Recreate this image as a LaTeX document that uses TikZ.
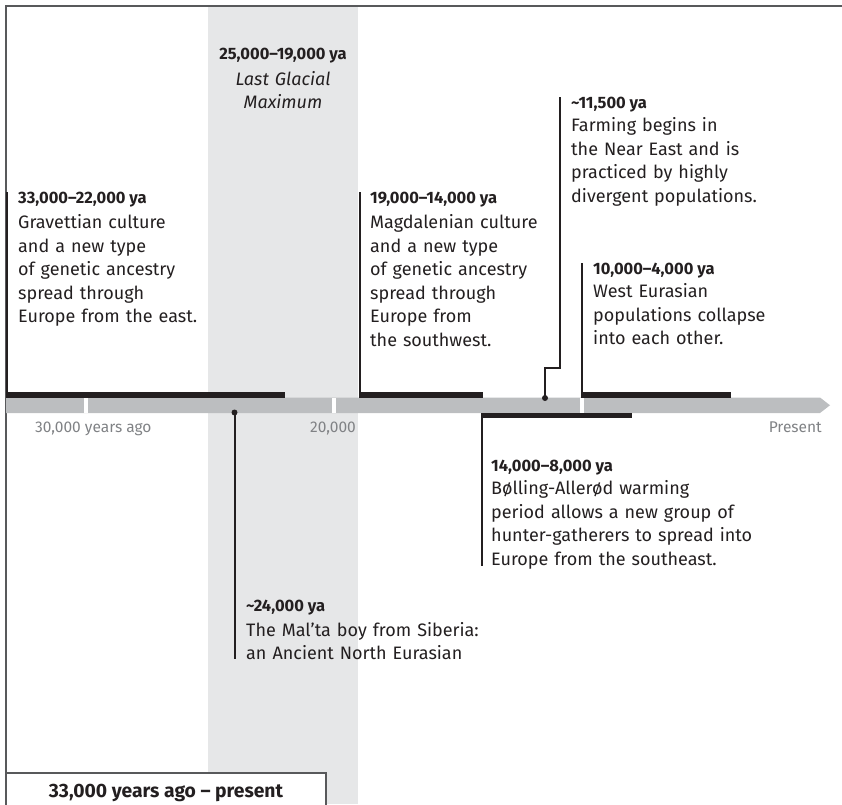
\documentclass[tikz,border=0pt]{standalone}
\usepackage{fontspec}
\setmainfont{Fira Sans}
\definecolor{framegray}{HTML}{58595B}
\definecolor{ink}{HTML}{231F20}
\definecolor{bargray}{HTML}{BCBEC0}
\definecolor{bandgray}{HTML}{E6E7E8}
\definecolor{labelgray}{HTML}{808285}
\tikzset{
  head/.style={font=\fontsize{16.5}{19}\selectfont\bfseries, text=ink, inner sep=0pt, anchor=base west},
  body/.style={font=\fontsize{18}{23.5}\selectfont, text=ink, inner sep=0pt, anchor=base west,
               text width=290pt, align=left},
  axislabel/.style={font=\fontsize{15.5}{18}\selectfont, text=labelgray, inner sep=0pt},
  leader/.style={draw=ink, line width=2pt},
  spanbar/.style={fill=ink},
  frameline/.style={draw=framegray, line width=1.5pt},
}
\begin{document}
\begin{tikzpicture}[x=1pt, y=-1pt]
\useasboundingbox (0,0) rectangle (842,804);

% Last Glacial Maximum band
\fill[bandgray] (208,6) rectangle (358,804);

% outer frame (top and left sides)
\draw[frameline] (6,804) -- (6,6) -- (842,6);

% time axis with arrow point
\fill[bargray] (6,397.5) -- (820,397.5) -- (830,405.25) -- (820,413) -- (6,413) -- cycle;
\fill[white] (84,397.5) rectangle (88,413);
\fill[white] (332,397.5) rectangle (336,413);
\fill[white] (580,397.5) rectangle (584,413);

\node[axislabel, anchor=base west] (l30) at (35,432.3) {30,000 years ago};
\node[axislabel, anchor=base east] (l20) at (356,432.3) {20,000};
\node[axislabel, anchor=base east] (lnow) at (822,432.3) {Present};

% period bars
\fill[spanbar] (6,392) rectangle (285,397.5);
\fill[spanbar] (358.5,392) rectangle (483,397.5);
\fill[spanbar] (581,392) rectangle (731,397.5);
\fill[spanbar] (481,413) rectangle (632,418);

% anchor points of the leader lines
\coordinate (a-top) at (7,192);   \coordinate (a-foot) at (7,392);
\coordinate (b-top) at (359.5,192); \coordinate (b-foot) at (359.5,392);
\coordinate (d-top) at (582,263); \coordinate (d-foot) at (582,392);
\coordinate (e-top) at (481.8,413); \coordinate (e-foot) at (481.8,566);
\coordinate (f-dot) at (234.5,412.5); \coordinate (f-foot) at (234.5,659);
\coordinate (c-dot) at (545,398); \coordinate (c-top) at (560,97);

\draw[leader] (a-top) -- (a-foot);
\draw[leader] (b-top) -- (b-foot);
\draw[leader] (d-top) -- (d-foot);
\draw[leader] (e-top) -- (e-foot);
\draw[leader] (f-dot) -- (f-foot);
\draw[leader] (c-dot) |- (552,368) -| (c-top);
\fill[ink] (f-dot) circle (3pt);
\fill[ink] (c-dot) circle (3pt);

% Last Glacial Maximum label
\node[head, anchor=base] (g-head) at (283,59.3) {25,000–19,000 ya};
\node[body, anchor=base, text width=150pt, align=center] (g-body) at (283,85)
  {\itshape Last Glacial\\Maximum};

% Gravettian
\node[head] (a-head) at (18,203) {33,000–22,000 ya};
\node[body] (a-body) at (18,228.5)
  {Gravettian culture\\and a new type\\of genetic ancestry\\spread through\\Europe from the east.};

% Magdalenian
\node[head] (b-head) at (370,203) {19,000–14,000 ya};
\node[body] (b-body) at (370,228.5)
  {Magdalenian culture\\and a new type\\of genetic ancestry\\spread through\\Europe from\\the southwest.};

% Farming
\node[head] (c-head) at (571,108) {\textasciitilde11,500 ya};
\node[body] (c-body) at (571,131.5)
  {Farming begins in\\the Near East and is\\practiced by highly\\divergent populations.};

% West Eurasian
\node[head] (d-head) at (593,274) {10,000–4,000 ya};
\node[body] (d-body) at (593,297.5)
  {West Eurasian\\populations collapse\\into each other.};

% Bolling-Allerod
\node[head] (e-head) at (491,471) {14,000–8,000 ya};
\node[body] (e-body) at (491,494.5)
  {Bølling-Allerød warming\\period allows a new group of\\hunter-gatherers to spread into\\Europe from the southeast.};

% Mal'ta boy
\node[head] (f-head) at (246,611) {\textasciitilde24,000 ya};
\node[body] (f-body) at (246,636)
  {The Mal’ta boy from Siberia:\\an Ancient North Eurasian};

% range caption box
\draw[frameline, fill=white] (6,773) rectangle (326,812);
\node[font=\fontsize{19.3}{22}\selectfont\bfseries, text=ink, inner sep=0pt, anchor=base] (range)
  at (166,797.5) {33,000 years ago – present};
\end{tikzpicture}
\end{document}
